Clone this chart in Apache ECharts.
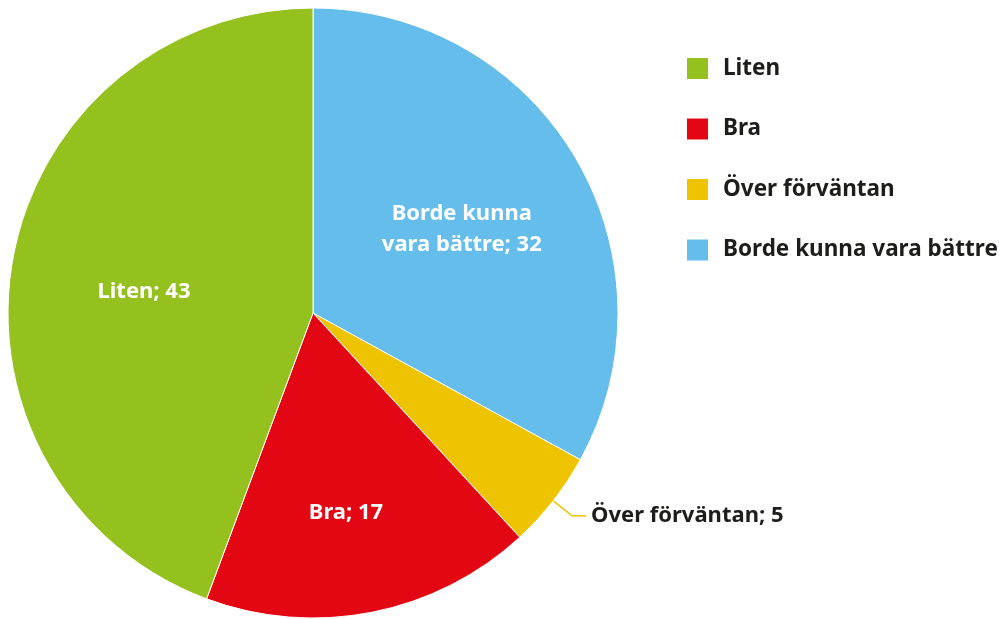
<!DOCTYPE html>
<html>
<head>
<meta charset="utf-8">
<script src="https://cdn.jsdelivr.net/npm/echarts@6/dist/echarts.min.js"></script>
<style>
	html,body{margin:0;padding:0;background:#fff;}
	#main{width:1003px;height:619px;}
</style>
</head>
<body>
<div id="main"></div>
<script type="text/javascript">
	// data, in clockwise order from 12 o'clock
	var names = ["Borde kunna vara bättre","Över förväntan","Bra","Liten"];
	var values = [32,5,17,43];
	var labelTexts = ["Borde kunna\nvara bättre; 32","Över förväntan; 5","Bra; 17","Liten; 43"];
	var legendOrder = ["Liten","Bra","Över förväntan","Borde kunna vara bättre"];

	var colors = ["#65bdeb","#eec300","#e30613","#95c11f"];
	var font = "'Noto Sans', sans-serif";

	// label tweaks (offsets only, positions come from the pie)
	var labelSet = [
		{position:"inside",color:"#fff",offset:[15,-5]},
		{position:"outside",color:"#1d1d1b"},
		{position:"inside",color:"#fff",offset:[3,47]},
		{position:"inside",color:"#fff",offset:[-16,6]}
	];

	var data = [];
	names.forEach(function(el,index){
		var lb = labelSet[index];
		data.push({
			name:el,
			value:values[index],
			itemStyle:{color:colors[index]},
			label:{
				show:true,
				position:lb.position,
				color:lb.color,
				offset:lb.offset||[0,0],
				formatter:labelTexts[index]
			},
			labelLine:{show:lb.position==="outside",lineStyle:{color:colors[index],width:1.5}}
		});
	});

	var myChart = echarts.init(document.getElementById("main"));
	var option = {
		animation:false,
		legend:{
			orient:"vertical",
			left:680,
			top:51,
			padding:5,
			data:legendOrder,
			icon:"rect",
			itemWidth:23,
			itemHeight:23,
			itemGap:35.5,
			textStyle:{fontFamily:font,fontWeight:"bold",fontSize:22.5,lineHeight:23,color:"#1d1d1b",padding:[0,0,0,9]}
		},
		series:[
			{
				type:"pie",
				center:[313,313],
				radius:[0,305],
				startAngle:90,
				clockwise:true,
				avoidLabelOverlap:false,
				itemStyle:{borderColor:"#fff",borderWidth:1},
				label:{fontFamily:font,fontWeight:"bold",fontSize:22,lineHeight:31,align:"center"},
				labelLine:{length:24,length2:14,smooth:false},
				data:data
			}
		]
	};
	myChart.setOption(option);
</script>
</body>
</html>
